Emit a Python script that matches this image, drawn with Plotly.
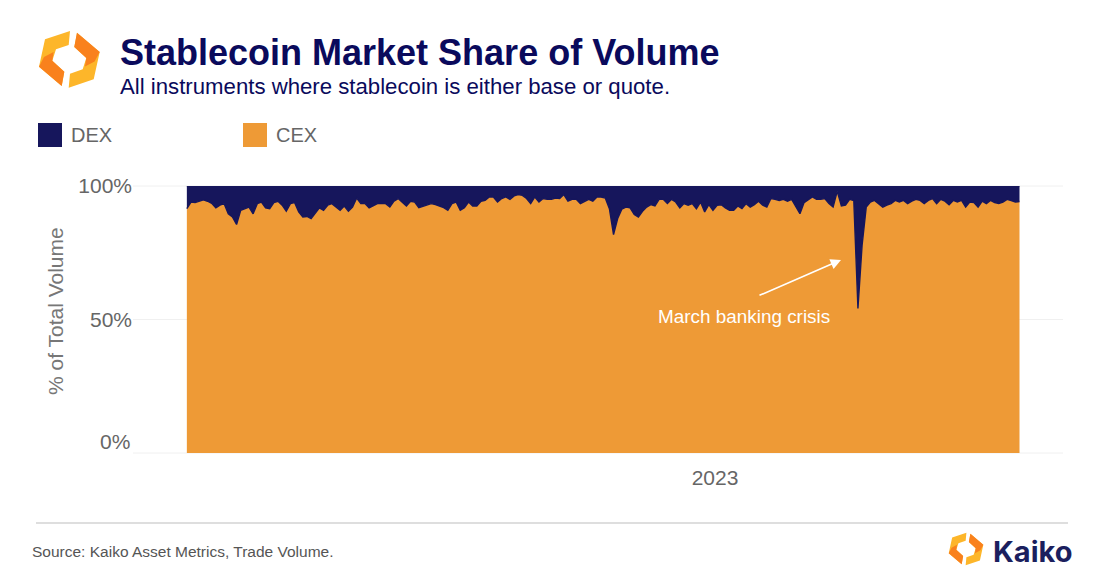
import pandas as pd
import plotly.graph_objects as go

cex_share = [
 91.5,94,93.8,94.3,94.8,94.3,93.5,91.8,92.8,93.4,89.6,88.4,85.6,90.9,91.5,92.1,89.6,93.4,94,91.8,91.5,93.8,94.3,92.8,
 90.6,93.4,93.8,90.3,88.4,88.6,87.8,89.6,91.8,90.9,92.8,93.4,92.1,90.9,92.5,90.6,92.1,95.5,93.4,93.4,91.8,92.5,93.4,93.4,
 93.4,92.1,94.3,95.3,94,92.5,94.3,94,91.9,92.5,93,93.4,93,92.5,91.9,90.9,93.4,94,90.9,91.9,94,92.5,92.5,94.3,
 94.6,95.9,95.9,94,95.3,95.9,95,96.3,96.8,96.5,95.3,93.4,95.9,94,95.3,95,95,95.5,95.3,96.8,94.3,95,95,93.4,94.3,95,94.3,95.9,95.9,95.5,91.5,
 81.8,87.8,91.3,92.1,91.8,89.3,88.4,90.5,92.1,93,92.5,95,95,93.4,95,94,91.8,93.4,92.8,93.4,91.5,94,90.3,93,90.9,92.8,93,91.8,90.9,90.9,92.5,91.5,93.4,92.1,93,94.3,92.8,
 92.1,95.3,95,94.6,95,94.3,95,92.5,89.6,93.8,95,95.9,95,95,95.3,93.4,92.1,98,92.5,92.8,95,94.5,
 54.1,77.8,92.1,94,94.6,93.4,92.1,92.8,93.4,94.6,94,94.6,93.4,94.3,95,94.6,93.4,94.6,95.3,93.4,95,94.3,93,94.6,94,94.6,92.1,94,93.8,92.1,94.3,93.4,94.6,93.8,93.4,94,95,94.5,94,94.2,
]
dex_share = [round(100 - v, 1) for v in cex_share]
dates = pd.date_range("2022-04-21", periods=len(cex_share), freq="2D")

y_ticks = [50, 100]
y_labels = ["50%", "100%"]
x_ticks = ["2023-01-01"]
x_labels = ["2023"]

NAVY = "#16165c"
ORANGE = "#ee9a36"
OFF = 8  # page margin of the browser
L, T, R, B = 133, 186, 1063, 453

def px(x): return (x - L) / (R - L)
def py(y): return (B - y) / (B - T)

def poly(points, color, scale=1.0, center=None):
    c0 = (69.3, 59.3)
    c = center or c0
    pts = [(c[0] + (a - c0[0]) * scale, c[1] + (b - c0[1]) * scale) for a, b in points]
    path = "M " + " L ".join(f"{px(a):.5f},{py(b):.5f}" for a, b in pts) + " Z"
    return dict(type="path", xref="paper", yref="paper", path=path, fillcolor=color, line=dict(width=0), layer="above")

logo_parts = [
    ([(70,31),(45,39.3),(39,66.7),(61.7,86),(64.3,71.7),(52.3,60.7),(56,49.3),(68.7,45)], "#fdb62a"),
    ([(39,66.7),(61.7,86),(64.3,71.7),(52.3,60.7),(53.6,52),(44,57)], "#f9811d"),
    ([(68.7,87.7),(93.7,79.3),(99.7,52),(77,32.7),(74.3,47),(86.3,58),(82.7,69.3),(70,73.7)], "#fdb62a"),
    ([(99.7,52),(77,32.7),(74.3,47),(86.3,58),(85,66.6),(94.6,61.6)], "#f9811d"),
]

shapes = []
for pts, col in logo_parts:
    shapes.append(poly(pts, col))
for pts, col in logo_parts:
    shapes.append(poly(pts, col, scale=0.57, center=(966, 549)))
shapes += [
    dict(type="rect", xref="paper", yref="paper", x0=px(38), x1=px(62), y0=py(147), y1=py(123), fillcolor=NAVY, line=dict(width=0)),
    dict(type="rect", xref="paper", yref="paper", x0=px(243), x1=px(267), y0=py(147), y1=py(123), fillcolor=ORANGE, line=dict(width=0)),
    dict(type="line", xref="paper", yref="paper", x0=px(36), x1=px(1068), y0=py(523), y1=py(523), line=dict(color="#bdbdbd", width=1.2)),
    dict(type="line", xref="paper", yref="paper", x0=0, x1=1, y0=py(186), y1=py(186), line=dict(color="#f0f0f0", width=1), layer="below"),
    dict(type="line", xref="paper", yref="paper", x0=0, x1=1, y0=py(453), y1=py(453), line=dict(color="#f0f0f0", width=1), layer="below"),
]

def text(x, y, s, size, color, anchor="left", **kw):
    return dict(xref="paper", yref="paper", x=px(x), y=py(y), text=s, showarrow=False,
                xanchor=anchor, yanchor="middle", font=dict(size=size, color=color, family=kw.pop("family", "Liberation Sans")), **kw)

annotations = [
    text(118, 52, "<b>Stablecoin Market Share of Volume</b>", 36, "#0a0a5c"),
    text(118, 86, "All instruments where stablecoin is either base or quote.", 22.2, "#0a0a5c"),
    text(69, 135, "DEX", 20, "#666666"),
    text(274, 135, "CEX", 20, "#666666"),
    text(132, 441, "0%", 21, "#666666", anchor="right"),
    text(55, 311, "% of Total Volume", 21, "#777777", anchor="center", textangle=-90),
    text(744, 316, "March banking crisis", 18.9, "#ffffff", anchor="center"),
    text(30, 551, "Source: Kaiko Asset Metrics, Trade Volume.", 15.5, "#555555"),
    text(991, 551, "<b>Kaiko</b>", 29, "#1b1f5e", family="Inter"),
    dict(xref="paper", yref="paper", x=px(841), y=py(260), axref="pixel", ayref="pixel", ax=-83, ay=36,
         text="", showarrow=True, arrowhead=2, arrowsize=1.3, arrowwidth=1.6, arrowcolor="#ffffff"),
]

fig = go.Figure()
fig.add_trace(go.Scatter(x=dates, y=cex_share, name="CEX", stackgroup="one", mode="lines",
                         fillcolor=ORANGE, line=dict(color=NAVY, width=1.4)))
fig.add_trace(go.Scatter(x=dates, y=dex_share, name="DEX", stackgroup="one", mode="lines",
                         fillcolor=NAVY, line=dict(color=NAVY, width=1)))

fig.update_layout(
    width=1100, height=587, autosize=False,
    margin=dict(l=L - OFF, r=1100 - R + OFF, t=T - OFF, b=587 - B + OFF),
    paper_bgcolor="white", plot_bgcolor="white", showlegend=False,
    font=dict(family="Liberation Sans", color="#666666"),
    shapes=shapes, annotations=annotations,
    xaxis=dict(range=["2022-03-26", "2023-06-18"], tickvals=x_ticks, ticktext=x_labels, showgrid=False,
               zeroline=False, showline=False, ticks="", ticklabelstandoff=10, tickfont=dict(size=21, color="#666666")),
    yaxis=dict(range=[0, 100], tickvals=[0] + y_ticks, ticktext=[""] + y_labels, gridcolor="#f0f0f0", gridwidth=1,
               zeroline=False, showline=False, ticks="", tickfont=dict(size=21, color="#666666")),
)
fig.write_html("out.html", config=dict(displayModeBar=False))
